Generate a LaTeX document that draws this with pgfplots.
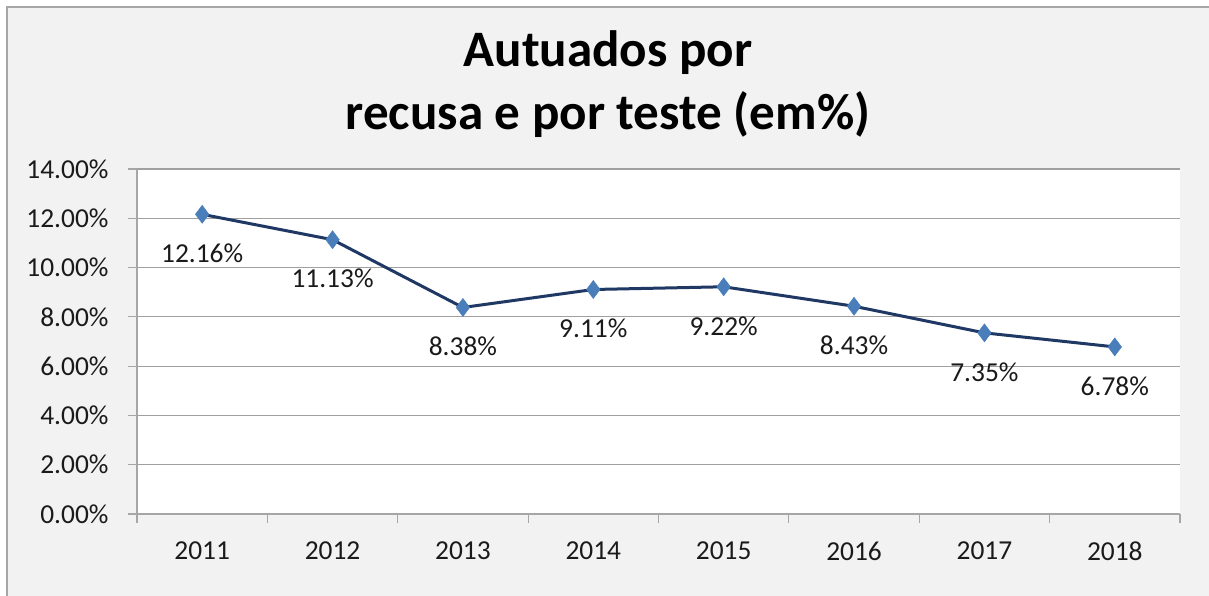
\documentclass[border=0pt]{standalone}
\usepackage{fontspec}
\setmainfont{Carlito}
\usepackage{pgfplots}
\pgfplotsset{compat=1.18}
\definecolor{bgg}{HTML}{F2F2F2}
\definecolor{frame}{HTML}{A6A6A6}
\definecolor{gridc}{HTML}{A0A0A0}
\definecolor{linec}{HTML}{1F3864}
\definecolor{markc}{HTML}{4A7EBB}
\definecolor{txt}{HTML}{1A1A1A}
\begin{document}
\begin{tikzpicture}[x=1bp,y=1bp]
\useasboundingbox (0,0) rectangle (1209,596);
\fill[white] (0,0) rectangle (1209,596);
\fill[bgg] (7,0) rectangle (1209,589);
\draw[line width=1.5bp, frame] (7,0) -- (7,589) -- (1209,589);
\node[font=\fontsize{51.3}{60}\selectfont\bfseries, anchor=base, inner sep=0pt] at (608,529) {Autuados por};
\node[font=\fontsize{51.3}{60}\selectfont\bfseries, anchor=base, inner sep=0pt] at (608,466) {recusa e por teste (em\%)};
\begin{axis}[
  at={(137bp,82bp)}, anchor=south west,
  width=1043bp, height=345bp, scale only axis,
  axis background/.style={fill=white},
  xmin=-0.5, xmax=7.5, ymin=0, ymax=14,
  ytick={0,2,...,14},
  xtick={0,...,7},
  xticklabels={2011,2012,2013,2014,2015,2016,2017,2018},
  minor xtick={-0.5,0.5,...,7.5},
  axis x line*=bottom, axis y line*=left,
  axis line style={-, frame, line width=1.2bp},
  tick align=outside,
  major tick length=9bp, minor tick length=9bp,
  major x tick style={draw=none},
  minor x tick style={frame, line width=1.2bp},
  ytick style={frame, line width=1.2bp},
  ymajorgrids,
  major grid style={gridc, line width=1.2bp},
  /pgf/number format/assume math mode=true,
  yticklabel={\pgfmathprintnumber[fixed,fixed zerofill,precision=2]{\tick}\%},
  ticklabel style={font=\fontsize{27.5}{32}\selectfont, text=txt},
  yticklabel style={xshift=-16bp},
  xticklabel style={yshift=-15bp},
  point meta=explicit symbolic,
  nodes near coords,
  every node near coord/.append style={anchor=center, yshift=-39bp, font=\fontsize{27.5}{32}\selectfont, text=txt},
]
\addplot[linec, line width=3bp, mark=diamond*, mark size=9bp, mark options={fill=markc, draw=markc, line width=0.5bp}]
  table[meta=lab] {
x y lab
0 12.16 12.16\%
1 11.13 11.13\%
2 8.38 8.38\%
3 9.11 9.11\%
4 9.22 9.22\%
5 8.43 8.43\%
6 7.35 7.35\%
7 6.78 6.78\%
};
\end{axis}
\end{tikzpicture}
\end{document}
